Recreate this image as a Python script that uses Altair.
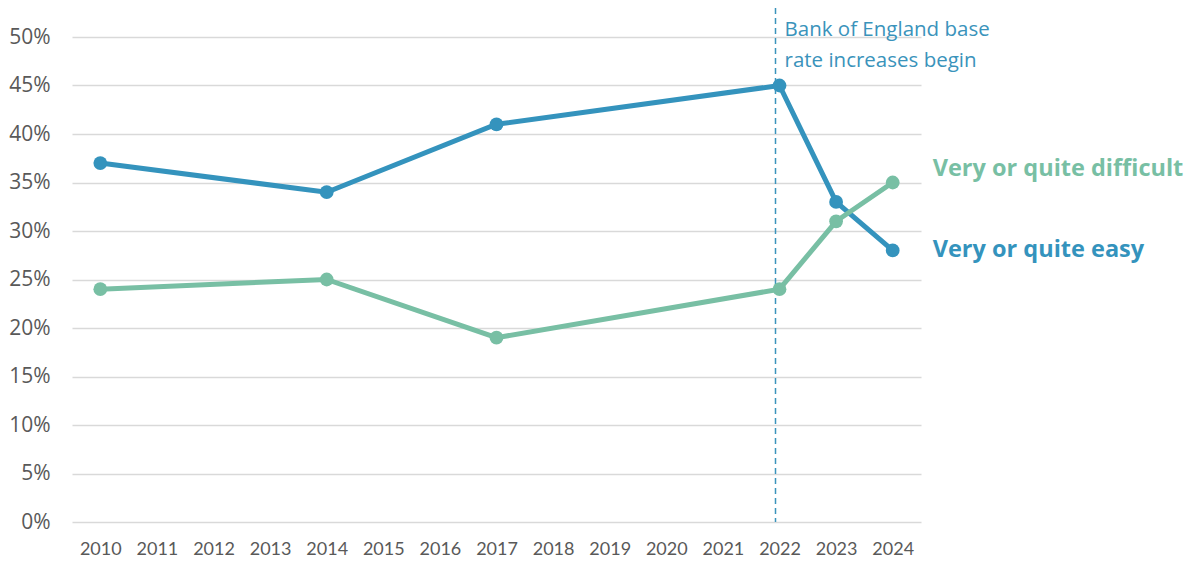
import altair as alt
import pandas as pd

years_all = [str(y) for y in range(2010, 2025)]
years = ["2010", "2014", "2017", "2022", "2023", "2024"]
easy = [37, 34, 41, 45, 33, 28]
difficult = [24, 25, 19, 24, 31, 35]
series_names = ["Very or quite easy", "Very or quite difficult"]
colors = ["#3493bd", "#78bfa4"]
y_ticks = [0, 5, 10, 15, 20, 25, 30, 35, 40, 45, 50]

rows = []
for yv, e, d in zip(years, easy, difficult):
    rows.append({"year": yv, "value": e, "series": series_names[0]})
    rows.append({"year": yv, "value": d, "series": series_names[1]})
df = pd.DataFrame(rows)

FONT = "Open Sans"

x_enc = alt.X("year:O", scale=alt.Scale(domain=years_all, type="point", padding=0.5),
              axis=alt.Axis(title=None, labelAngle=0, labelFontSize=18, labelColor="#595959",
                            labelFont="Lato", ticks=False, domain=False, labelPadding=18, grid=False))
y_enc = alt.Y("value:Q", scale=alt.Scale(domain=[0, 50], nice=False),
              axis=alt.Axis(title=None, values=y_ticks, labelExpr="datum.value + '%'",
                            labelFontSize=21, labelColor="#595959", labelFont=FONT,
                            ticks=False, domain=False, labelPadding=22,
                            gridColor="#d9d9d9", gridWidth=1.5))
color_enc = alt.Color("series:N", scale=alt.Scale(domain=series_names, range=colors), legend=None)

lines = alt.Chart(df).mark_line(strokeWidth=5).encode(x=x_enc, y=y_enc, color=color_enc)
points = alt.Chart(df).mark_circle(size=190, opacity=1).encode(x="year:O", y="value:Q", color=color_enc)

rule_df = pd.DataFrame({"year": ["2022"]})
rule = alt.Chart(rule_df).mark_rule(color="#3a93bb", strokeDash=[6, 4], strokeWidth=1.5, xOffset=-4).encode(
    x="year:O", y=alt.value(-29), y2=alt.value(485))

ann_df = pd.DataFrame({"year": ["2022", "2022"], "line": ["Bank of England base", "rate increases begin"],
                       "yp": [-7, 24]})
ann = alt.Chart(ann_df).mark_text(align="left", baseline="middle", fontSize=20.5, font=FONT,
                                  color="#3a93bb", dx=5).encode(
    x="year:O", y=alt.Y("yp:Q", scale=None), text="line:N")

diff_df = pd.DataFrame({"year": ["2024"], "value": [35], "label": ["Very or quite difficult"],
                        "series": ["Very or quite difficult"]})
easy_df = pd.DataFrame({"year": ["2024"], "value": [28], "label": ["Very or quite easy"],
                        "series": ["Very or quite easy"]})
lab_diff = alt.Chart(diff_df).mark_text(align="left", baseline="middle", fontSize=23.5, font=FONT,
                                        fontWeight="bold", dx=40, dy=-14).encode(
    x="year:O", y="value:Q", text="label:N", color=color_enc)
lab_easy = alt.Chart(easy_df).mark_text(align="left", baseline="middle", fontSize=23.5, font=FONT,
                                        fontWeight="bold", dx=40, dy=0).encode(
    x="year:O", y="value:Q", text="label:N", color=color_enc)

chart = alt.layer(lines, rule, points, ann, lab_diff, lab_easy).properties(
    width=849, height=485,
    autosize=alt.AutoSizeParams(type="none"),
    padding={"left": 64, "top": 29, "right": 270, "bottom": 40},
).configure_view(stroke=None)

chart.save("out.html", embed_options={"renderer": "svg", "actions": False})
